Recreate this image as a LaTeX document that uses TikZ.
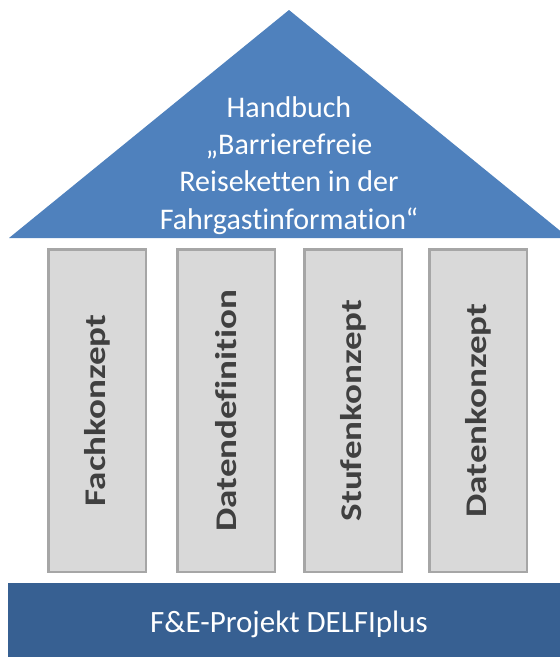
\documentclass[tikz,border=0pt]{standalone}
\usepackage{fontspec}
\setmainfont{Carlito}[Ligatures={NoCommon}]
\definecolor{roofblue}{HTML}{4F81BD}
\definecolor{baseblue}{HTML}{376092}
\definecolor{pillarfill}{HTML}{D9D9D9}
\definecolor{pillarborder}{HTML}{A6A6A6}
\definecolor{pillartext}{HTML}{404040}
\begin{document}
\begin{tikzpicture}[x=1pt,y=-1pt,
  pillar/.style={draw=pillarborder, line width=2.5pt, fill=pillarfill,
    minimum width=322.5pt, minimum height=97.5pt, inner sep=0pt, rotate=90,
    text=pillartext, font=\fontsize{30}{36}\selectfont\bfseries},
  rooftext/.style={text=white, align=center, inner sep=0pt,
    font=\fontsize{30}{37.3}\selectfont},
  basetext/.style={text=white, inner sep=0pt, font=\fontsize{31}{37}\selectfont}]
\useasboundingbox (0,0) rectangle (560,657);
% roof
\fill[roofblue] (9,238) -- (289,10) -- (569,238) -- cycle;
\node[rooftext, anchor=base] (roof) at (289,229)
  {Handbuch\\„Barrierefreie\\Reiseketten in der\\Fahrgastinformation“};
% pillars
\node[pillar] (p1) at (97,410.5) {\scalebox{1.235}[1]{Fachkonzept}};
\node[pillar] (p2) at (226,410.5) {\scalebox{1.235}[1]{Datendefinition}};
\node[pillar] (p3) at (353,410.5) {\scalebox{1.235}[1]{Stufenkonzept}};
\node[pillar] (p4) at (478,410.5) {\scalebox{1.235}[1]{Datenkonzept}};
% base
\fill[baseblue] (8,583) rectangle (570,657);
\node[basetext, anchor=base] (base) at (289,632) {F\&E-Projekt DELFIplus};
\end{tikzpicture}
\end{document}
